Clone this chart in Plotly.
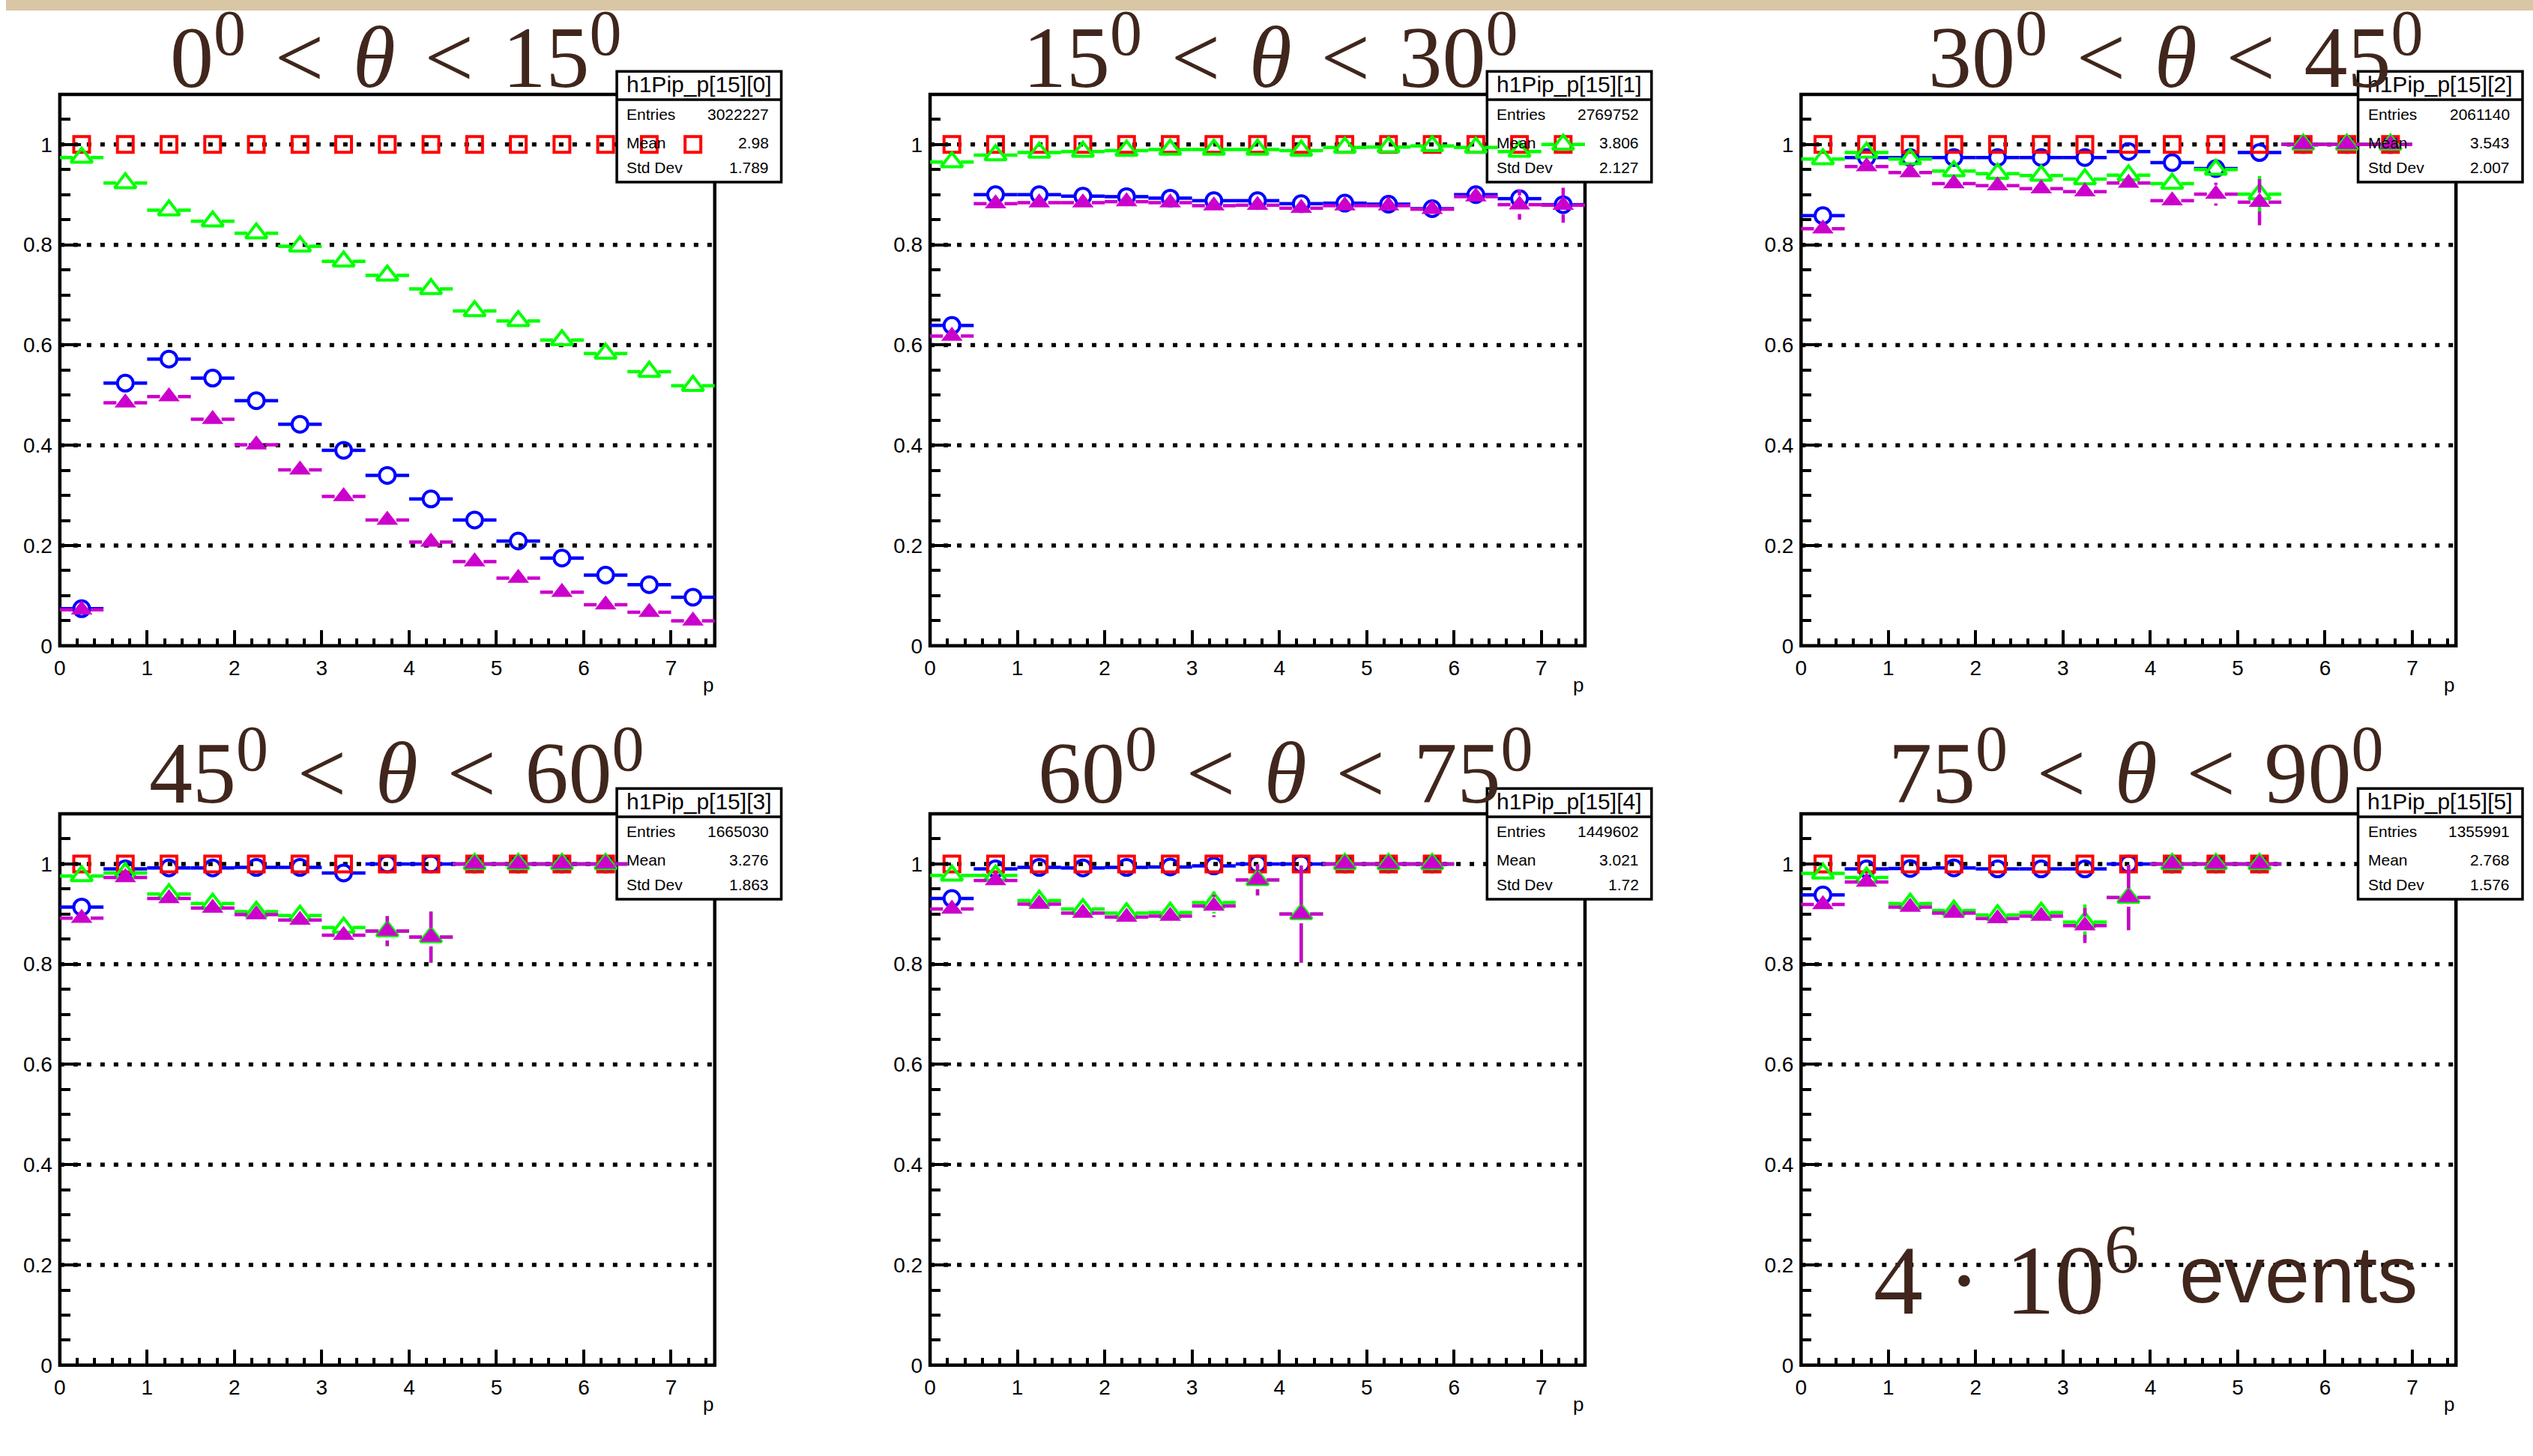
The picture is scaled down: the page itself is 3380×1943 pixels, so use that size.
import plotly.graph_objects as go

FIG_W, FIG_H = 3380, 1943

# ---------------------------------------------------------------- data
# momentum bins (GeV), 0.5 wide
P_BINS = [0.25, 0.75, 1.25, 1.75, 2.25, 2.75, 3.25, 3.75,
          4.25, 4.75, 5.25, 5.75, 6.25, 6.75, 7.25]
BIN_HALF_WIDTH = 0.25

THETA_EDGES = [0, 15, 30, 45, 60, 75, 90]
HIST_NAMES = ["h1Pip_p[15][0]", "h1Pip_p[15][1]", "h1Pip_p[15][2]",
              "h1Pip_p[15][3]", "h1Pip_p[15][4]", "h1Pip_p[15][5]"]
ENTRIES = ["3022227", "2769752", "2061140", "1665030", "1449602", "1355991"]
MEANS = ["2.98", "3.806", "3.543", "3.276", "3.021", "2.768"]
STD_DEVS = ["1.789", "2.127", "2.007", "1.863", "1.72", "1.576"]

# 0 < theta < 15
ref_0 = [1.0, 1.0, 1.0, 1.0, 1.0, 1.0, 1.0, 1.0, 1.0, 1.0, 1.0, 1.0, 1.0, 1.0, 1.0]
circ_0 = [0.074, 0.524, 0.572, 0.534, 0.489, 0.442, 0.390, 0.340,
          0.293, 0.251, 0.209, 0.175, 0.141, 0.122, 0.097]
open_tri_0 = [0.974, 0.923, 0.869, 0.847, 0.823, 0.797, 0.767, 0.739,
              0.712, 0.668, 0.648, 0.610, 0.583, 0.547, 0.519]
full_tri_0 = [0.072, 0.485, 0.497, 0.452, 0.401, 0.351, 0.298, 0.251,
              0.207, 0.168, 0.135, 0.107, 0.082, 0.067, 0.050]
open_tri_err_0 = [0, 0, 0, 0, 0, 0, 0, 0, 0, 0, 0, 0, 0, 0, 0]
full_tri_err_0 = [0, 0, 0, 0, 0, 0, 0, 0, 0, 0, 0, 0, 0, 0, 0]

# 15 < theta < 30
ref_1 = [1.0, 1.0, 1.0, 1.0, 1.0, 1.0, 1.0, 1.0, 1.0, 1.0, 1.0, 1.0, 1.0, 1.0, 1.0]
circ_1 = [0.639, 0.900, 0.900, 0.897, 0.896, 0.893, 0.888, 0.888,
          0.882, 0.883, 0.881, 0.872, 0.900, 0.892, 0.880]
open_tri_1 = [0.965, 0.979, 0.984, 0.986, 0.988, 0.990, 0.990, 0.990,
              0.988, 0.994, 0.995, 0.997, 0.994, 0.986, 1.000]
full_tri_1 = [0.618, 0.882, 0.884, 0.884, 0.886, 0.884, 0.878, 0.879,
              0.873, 0.878, 0.878, 0.871, 0.896, 0.880, 0.879]
open_tri_err_1 = [0, 0, 0, 0, 0, 0, 0, 0, 0, 0, 0, 0, 0, 0.01, 0.01]
full_tri_err_1 = [0, 0, 0, 0, 0, 0, 0, 0, 0, 0, 0, 0, 0.01, 0.030, 0.035]

# 30 < theta < 45
ref_2 = [1.0, 1.0, 1.0, 1.0, 1.0, 1.0, 1.0, 1.0, 1.0, 1.0, 1.0, 1.0, 1.0, 1.0]
circ_2 = [0.858, 0.974, 0.974, 0.974, 0.974, 0.974, 0.974, 0.986,
          0.964, 0.952, 0.984, 1.0, 1.0, 1.0]
open_tri_2 = [0.971, 0.984, 0.971, 0.947, 0.942, 0.938, 0.931, 0.939,
              0.922, 0.950, 0.901, 1.0, 1.0, 1.0]
full_tri_2 = [0.832, 0.956, 0.944, 0.922, 0.918, 0.912, 0.906, 0.923,
              0.888, 0.901, 0.885, 1.0, 1.0, 1.0]
open_tri_err_2 = [0, 0, 0, 0, 0, 0, 0, 0, 0, 0.015, 0.036, 0, 0, 0]
full_tri_err_2 = [0, 0, 0, 0, 0, 0, 0, 0, 0.012, 0.023, 0.046, 0, 0, 0]

# 45 < theta < 60
ref_3 = [1.0, 1.0, 1.0, 1.0, 1.0, 1.0, 1.0, 1.0, 1.0, 1.0, 1.0, 1.0, 1.0]
circ_3 = [0.914, 0.990, 0.992, 0.992, 0.993, 0.993, 0.982, 1.0,
          1.0, 1.0, 1.0, 1.0, 1.0]
open_tri_3 = [0.976, 0.982, 0.940, 0.921, 0.905, 0.897, 0.873, 0.866,
              0.854, 1.0, 1.0, 1.0, 1.0]
full_tri_3 = [0.892, 0.973, 0.931, 0.912, 0.899, 0.888, 0.858, 0.866,
              0.854, 1.0, 1.0, 1.0, 1.0]
open_tri_err_3 = [0, 0, 0, 0, 0, 0, 0.012, 0.030, 0.051, 0, 0, 0, 0]
full_tri_err_3 = [0, 0, 0, 0, 0, 0, 0.012, 0.030, 0.051, 0, 0, 0, 0]

# 60 < theta < 75
ref_4 = [1.0, 1.0, 1.0, 1.0, 1.0, 1.0, 1.0, 1.0, 1.0, 1.0, 1.0, 1.0]
circ_4 = [0.931, 0.990, 0.993, 0.992, 0.993, 0.994, 0.996, 1.0,
          1.0, 1.0, 1.0, 1.0]
open_tri_4 = [0.977, 0.977, 0.927, 0.910, 0.902, 0.903, 0.923, 0.968,
              0.900, 1.0, 1.0, 1.0]
full_tri_4 = [0.910, 0.967, 0.920, 0.902, 0.894, 0.896, 0.916, 0.968,
              0.900, 1.0, 1.0, 1.0]
open_tri_err_4 = [0, 0, 0, 0, 0, 0, 0.022, 0.031, 0.097, 0, 0, 0]
full_tri_err_4 = [0, 0, 0, 0, 0, 0, 0.022, 0.031, 0.097, 0, 0, 0]

# 75 < theta < 90
ref_5 = [1.0, 1.0, 1.0, 1.0, 1.0, 1.0, 1.0, 1.0, 1.0, 1.0, 1.0]
circ_5 = [0.938, 0.990, 0.991, 0.992, 0.990, 0.990, 0.990, 1.0,
          1.0, 1.0, 1.0]
open_tri_5 = [0.981, 0.973, 0.921, 0.907, 0.898, 0.903, 0.884, 0.933,
              1.0, 1.0, 1.0]
full_tri_5 = [0.919, 0.964, 0.914, 0.902, 0.891, 0.896, 0.877, 0.933,
              1.0, 1.0, 1.0]
open_tri_err_5 = [0, 0, 0, 0, 0, 0, 0.035, 0.065, 0, 0, 0]
full_tri_err_5 = [0, 0, 0, 0, 0, 0, 0.035, 0.065, 0, 0, 0]

EVENTS_LABEL = "4 · 10<sup>6</sup>"
EVENTS_WORD = "events"
X_TITLE = "p"
GRID_VALUES = [0.2, 0.4, 0.6, 0.8, 1.0]

SLICES = [
    dict(ref=ref_0, circ=circ_0, otri=open_tri_0, ftri=full_tri_0,
         oerr=open_tri_err_0, ferr=full_tri_err_0),
    dict(ref=ref_1, circ=circ_1, otri=open_tri_1, ftri=full_tri_1,
         oerr=open_tri_err_1, ferr=full_tri_err_1),
    dict(ref=ref_2, circ=circ_2, otri=open_tri_2, ftri=full_tri_2,
         oerr=open_tri_err_2, ferr=full_tri_err_2),
    dict(ref=ref_3, circ=circ_3, otri=open_tri_3, ftri=full_tri_3,
         oerr=open_tri_err_3, ferr=full_tri_err_3),
    dict(ref=ref_4, circ=circ_4, otri=open_tri_4, ftri=full_tri_4,
         oerr=open_tri_err_4, ferr=full_tri_err_4),
    dict(ref=ref_5, circ=circ_5, otri=open_tri_5, ftri=full_tri_5,
         oerr=open_tri_err_5, ferr=full_tri_err_5),
]

# ---------------------------------------------------------------- style
X_RANGE = [0, 7.5]
Y_RANGE = [0, 1.1]
FRAME_LEFT = [72, 1236, 2401]
FRAME_W = 876
FRAME_TOP = [127, 1095]
FRAME_H = 742
STAT_TOP = [96, 1061]
STAT_H = 149
STAT_SEP = 38
TITLE_CX = [522, 1692, 2902, 523, 1712, 2849]
TITLE_BASE = [115, 1078]
TITLE_SIZE = 116

BROWN = "#40261c"
BLUE = "#0000ff"
RED = "#ff0000"
GREEN = "#00ff00"
MAGENTA = "#cc00cc"
SANS = "Liberation Sans, Arial, Helvetica, sans-serif"
SERIF = "Liberation Serif, Times New Roman, serif"
TICK_FONT = dict(family=SANS, size=28, color="black")
BAR_W = 4.5
MARK_W = 4

PX_PER_X = FRAME_W / (X_RANGE[1] - X_RANGE[0])
PX_PER_Y = FRAME_H / (Y_RANGE[1] - Y_RANGE[0])
GAP_X = 12.0 / PX_PER_X      # error bars start at the marker edge
GAP_Y = 12.5 / PX_PER_Y


def fx(px):
    return px / FIG_W


def fy(py):
    return 1 - py / FIG_H


def degree(v):
    # raised "0" used as the degree mark in the pad titles
    return (f"{v}<span style='font-size:{round(TITLE_SIZE * 0.74)}px;"
            f"baseline-shift:{round(TITLE_SIZE * 0.37)}px'>0</span>")


def theta_title(lo, hi):
    sp = "\u2004"
    return f"{degree(lo)}{sp}<{sp}<i>θ</i>{sp}<{sp}{degree(hi)}"


def bar_segments(xs, ys, errs):
    sx, sy = [], []
    for x, y, e in zip(xs, ys, errs):
        sx += [x - BIN_HALF_WIDTH, x - GAP_X, None, x + GAP_X, x + BIN_HALF_WIDTH, None]
        sy += [y, y, None, y, y, None]
        if e > GAP_Y:
            sx += [x, x, None, x, x, None]
            sy += [y + GAP_Y, y + e, None, y - GAP_Y, y - e, None]
    return sx, sy


fig = go.Figure()
shapes = []
annotations = []
layout_axes = {}

# top decorative strip
shapes.append(dict(type="rect", xref="paper", yref="paper", layer="below",
                   x0=0, x1=1, y0=fy(14), y1=1,
                   fillcolor="#d9c6a4", line=dict(width=0)))

for k, s in enumerate(SLICES):
    row, col = divmod(k, 3)
    left = FRAME_LEFT[col]
    right = left + FRAME_W
    top = FRAME_TOP[row]
    bottom = top + FRAME_H
    sfx = "" if k == 0 else str(k + 1)
    xa, ya = "x" + sfx, "y" + sfx

    layout_axes["xaxis" + sfx] = dict(
        domain=[fx(left), fx(right)], anchor=ya, range=X_RANGE,
        showgrid=False, zeroline=False, showline=False,
        ticks="inside", ticklen=21, tickwidth=4, tickcolor="black",
        tick0=0, dtick=1, ticklabelstandoff=10, tickfont=TICK_FONT,
        minor=dict(tick0=0, dtick=0.2, ticks="inside", ticklen=10,
                   tickwidth=4, tickcolor="black", showgrid=False),
        fixedrange=True)
    layout_axes["yaxis" + sfx] = dict(
        domain=[fy(bottom), fy(top)], anchor=xa, range=Y_RANGE,
        showgrid=False, zeroline=False, showline=False,
        ticks="inside", ticklen=28, tickwidth=4, tickcolor="black",
        tick0=0, dtick=0.2, ticklabelstandoff=9, tickfont=TICK_FONT,
        minor=dict(tick0=0, dtick=0.05, ticks="inside", ticklen=14,
                   tickwidth=4, tickcolor="black", showgrid=False),
        fixedrange=True)

    # dotted grid
    for v in GRID_VALUES:
        yp = fy(bottom - (v - Y_RANGE[0]) * PX_PER_Y)
        shapes.append(dict(type="line", xref="paper", yref="paper", layer="below",
                           x0=fx(left), x1=fx(right), y0=yp, y1=yp,
                           line=dict(color="black", width=5.5, dash="6px,12px")))
    # frame
    shapes.append(dict(type="rect", xref="paper", yref="paper", layer="below",
                       x0=fx(left), x1=fx(right), y0=fy(bottom), y1=fy(top),
                       line=dict(color="black", width=4.5),
                       fillcolor="rgba(0,0,0,0)"))
    # statistics box
    bl, br = right - 131, right + 89
    bt = STAT_TOP[row]
    bb = bt + STAT_H
    shapes.append(dict(type="rect", xref="paper", yref="paper", layer="below",
                       x0=fx(bl), x1=fx(br), y0=fy(bb), y1=fy(bt),
                       fillcolor="white", line=dict(color="black", width=3.5)))
    shapes.append(dict(type="line", xref="paper", yref="paper", layer="below",
                       x0=fx(bl), x1=fx(br), y0=fy(bt + STAT_SEP), y1=fy(bt + STAT_SEP),
                       line=dict(color="black", width=3.5)))
    annotations.append(dict(text=HIST_NAMES[k], xref="paper", yref="paper",
                            x=fx((bl + br) / 2), y=fy(bt + 17), xanchor="center",
                            yanchor="middle", showarrow=False,
                            font=dict(family=SANS, size=30, color="black")))
    for lab, val, base in (("Entries", ENTRIES[k], 65), ("Mean", MEANS[k], 103),
                           ("Std Dev", STD_DEVS[k], 137)):
        ym = fy(bt + base - 0.35 * 21)
        annotations.append(dict(text=lab, xref="paper", yref="paper", x=fx(bl + 11),
                                y=ym, xanchor="left", yanchor="middle", showarrow=False,
                                font=dict(family=SANS, size=21, color="black")))
        annotations.append(dict(text=val, xref="paper", yref="paper", x=fx(br - 15),
                                y=ym, xanchor="right", yanchor="middle", showarrow=False,
                                font=dict(family=SANS, size=21, color="black")))

    # pad title
    annotations.append(dict(text=theta_title(THETA_EDGES[k], THETA_EDGES[k + 1]),
                            xref="paper", yref="paper",
                            x=fx(TITLE_CX[k]), y=fy(TITLE_BASE[row] + 29),
                            xanchor="center", yanchor="bottom", showarrow=False,
                            font=dict(family=SERIF, size=TITLE_SIZE, color=BROWN)))
    # axis title
    annotations.append(dict(text=X_TITLE, xref="paper", yref="paper",
                            x=fx(right), y=fy(bottom + 62 - 0.35 * 26),
                            xanchor="right", yanchor="middle", showarrow=False,
                            font=dict(family=SANS, size=26, color="black")))

    n = len(s["ref"])
    xs = P_BINS[:n]
    no_err = [0] * n

    # blue circles
    bx, by = bar_segments(xs, s["circ"], no_err)
    fig.add_trace(go.Scatter(x=bx, y=by, xaxis=xa, yaxis=ya, mode="lines",
                             line=dict(color=BLUE, width=BAR_W), hoverinfo="skip"))
    fig.add_trace(go.Scatter(x=xs, y=s["circ"], xaxis=xa, yaxis=ya, mode="markers",
                             marker=dict(symbol="circle-open", size=21, color=BLUE,
                                         line=dict(width=MARK_W, color=BLUE))))
    # red squares
    fig.add_trace(go.Scatter(x=xs, y=s["ref"], xaxis=xa, yaxis=ya, mode="markers",
                             marker=dict(symbol="square-open", size=21, color=RED,
                                         line=dict(width=MARK_W, color=RED))))
    # green open triangles
    gx, gy = bar_segments(xs, s["otri"], s["oerr"])
    fig.add_trace(go.Scatter(x=gx, y=gy, xaxis=xa, yaxis=ya, mode="lines",
                             line=dict(color=GREEN, width=BAR_W), hoverinfo="skip"))
    fig.add_trace(go.Scatter(x=xs, y=s["otri"], xaxis=xa, yaxis=ya, mode="markers",
                             marker=dict(symbol="triangle-up-open", size=25, color=GREEN,
                                         line=dict(width=MARK_W, color=GREEN))))
    # magenta filled triangles
    mx, my = bar_segments(xs, s["ftri"], s["ferr"])
    fig.add_trace(go.Scatter(x=mx, y=my, xaxis=xa, yaxis=ya, mode="lines",
                             line=dict(color=MAGENTA, width=BAR_W), hoverinfo="skip"))
    fig.add_trace(go.Scatter(x=xs, y=s["ftri"], xaxis=xa, yaxis=ya, mode="markers",
                             marker=dict(symbol="triangle-up", size=25, color=MAGENTA,
                                         line=dict(width=0))))

# event count label in the last pad
annotations.append(dict(text=EVENTS_LABEL, xref="paper", yref="paper",
                        x=fx(2496), y=fy(1757 + 42), xanchor="left", yanchor="bottom",
                        showarrow=False, font=dict(family=SERIF, size=132, color=BROWN)))
annotations.append(dict(text=EVENTS_WORD, xref="paper", yref="paper",
                        x=fx(3228), y=fy(1757 + 21), xanchor="right", yanchor="bottom",
                        showarrow=False,
                        font=dict(family=SANS, size=108, color=BROWN)))

fig.update_layout(
    width=FIG_W, height=FIG_H, autosize=False,
    margin=dict(l=0, r=0, t=0, b=0, pad=0),
    paper_bgcolor="white", plot_bgcolor="rgba(0,0,0,0)",
    showlegend=False, shapes=shapes, annotations=annotations,
    **layout_axes)

fig.write_html("out.html")
